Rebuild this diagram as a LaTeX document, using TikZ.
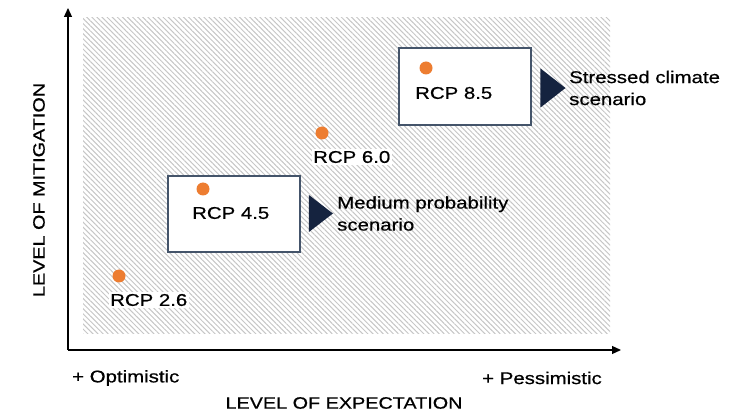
\documentclass[tikz,border=0pt]{standalone}
\usepackage{fontspec}
\setmainfont{Liberation Sans}[FakeStretch=1.2, FakeBold=0.6]
\usepackage{xcolor}
\usepackage{tikz}
\usetikzlibrary{shapes.geometric, arrows.meta, positioning, patterns.meta}

\definecolor{rcporange}{HTML}{ED7D31}
\definecolor{boxslate}{HTML}{44546A}
\definecolor{markernavy}{HTML}{15233F}

\begin{document}
\begin{tikzpicture}[
    x=1pt, y=-1pt,
    axis/.style={-{Triangle[length=9pt,width=8pt]}, line width=1.2pt, black},
    rcpdot/.style={circle, fill=rcporange, inner sep=0pt, minimum size=13pt},
    rcpbox/.style={rectangle, draw=boxslate, line width=1.1pt, fill=white, minimum width=132pt, minimum height=77pt},
    marker/.style={isosceles triangle, isosceles triangle apex angle=76, isosceles triangle stretches, fill=markernavy, inner sep=0pt},
    lbl/.style={font=\fontsize{17}{22}\selectfont, inner sep=0pt, anchor=west, align=left},
    axislbl/.style={font=\fontsize{16.5}{20}\selectfont, inner sep=0pt}
]
  \useasboundingbox (0,0) rectangle (745,414);

  % Hatched field
  \fill[pattern={Lines[angle=-45, distance=3.6pt, line width=1pt]}, pattern color=gray!45] (83,18) rectangle (610,334);

  % Axes
  \coordinate (origin) at (68,350);
  \coordinate (ytip) at (68,8);
  \coordinate (xtip) at (621,350);
  \draw[axis] (origin) -- (ytip);
  \draw[axis] (origin) -- (xtip);

  % RCP 8.5
  \node[rcpbox] (box85) at (465,86.5) {};
  \node[rcpdot] (dot85) at (426,68) {};
  \node[lbl] (rcp85) at (415,93) {RCP 8.5};
  \node[marker, minimum height=25pt, minimum width=39pt] (mark85) at (550,88) {};
  \node[lbl] (stressed) at (569,88) {Stressed climate\\scenario};

  % RCP 6.0
  \node[rcpdot] (dot60) at (322,133) {};
  \node[lbl, fill=white, inner sep=1.5pt] (rcp60) at (311.5,157) {RCP 6.0};

  % RCP 4.5
  \node[rcpbox, minimum height=76pt] (box45) at (234,214) {};
  \node[rcpdot] (dot45) at (203,189) {};
  \node[lbl] (rcp45) at (192,213) {RCP 4.5};
  \node[marker, minimum height=24pt, minimum width=37pt] (mark45) at (318,213.5) {};
  \node[lbl] (medium) at (337,213.5) {Medium probability\\scenario};

  % RCP 2.6
  \node[rcpdot] (dot26) at (119,276) {};
  \node[lbl, fill=white, inner sep=1.5pt] (rcp26) at (108.5,300) {RCP 2.6};

  % Axis labels
  \node[lbl] (optim) at (72,378) {+ Optimistic};
  \node[lbl, anchor=east] (pessim) at (602,378) {+ Pessimistic};
  \node[axislbl] (xlabel) at (344,403) {LEVEL OF EXPECTATION};
  \node[axislbl, rotate=90] (ylabel) at (39,190) {LEVEL OF MITIGATION};
\end{tikzpicture}
\end{document}
